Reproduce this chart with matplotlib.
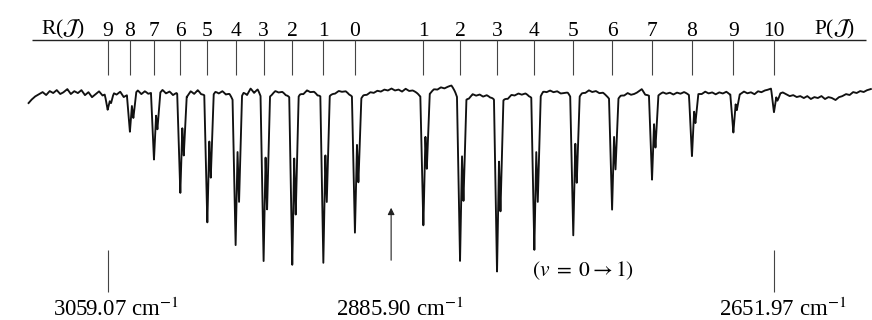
import numpy as np
import matplotlib
matplotlib.use("Agg")
import matplotlib.pyplot as plt

plt.rcParams['font.family'] = ['Liberation Serif', 'DejaVu Serif']
plt.rcParams['mathtext.fontset'] = 'stix'

# Line positions (cm^-1)
r_J = [0, 1, 2, 3, 4, 5, 6, 7, 8, 9]
r_wn = [2908.0, 2927.3, 2946.3, 2963.8, 2980.9, 2998.2, 3014.7, 3030.8, 3045.5, 3059.1]
r_depth = [139, 171, 174, 168, 152, 129, 100, 67, 40, 15]      # H35Cl
r_depth_37 = [85, 108, 120, 115, 107, 83, 62, 35, 25, 8]        # H37Cl

p_J = [1, 2, 3, 4, 5, 6, 7, 8, 9, 10]
p_wn = [2866.2, 2843.8, 2821.2, 2798.4, 2774.6, 2750.9, 2726.5, 2702.1, 2676.8, 2652.0]
p_depth = [135, 165, 174, 157, 143, 114, 87, 63, 40, 23]
p_depth_37 = [77, 102, 113, 107, 88, 72, 52, 30, 15, 8]

isotope_shift = 2.1     # H37Cl lines sit ~2.1 cm^-1 lower
band_origin = 2885.90
marked_wn = [3059.07, 2651.97]

# recorder baseline, left (3107 cm^-1) to right (2593 cm^-1)
baseline_noise = [
    -8, -4, -1, 1, 3, 0, 4, 2, 5, 1,
    3, 6, 1, 4, 2, 5, 0, 3, -2, 1,
    4, 0, 2, -1, 3, 1, 4, -1, 2, 5,
    3, 6, 2, 5, 3, 6, 2, 4, 7, 3,
    5, 2, 6, 4, 5, 2, 6, 3, 7, 4,
    6, 3, 5, 7, 4, 6, 3, 5, 2, 6,
    4, 7, 3, 9, 5, 10, 6, 4, 6, 5,
    7, 5, 6, 4, 6, 7, 5, 6, 4, 7,
    5, 6, 4, 7, 5, 6, 5, 4, 6, 5,
    6, 4, 5, 2, 1, 3, 2, 4, 3, 5,
    4, 6, 5, 7, 5, 6, 4, 7, 5, 6,
    5, 4, 6, 7, 6, 8, 7, 9, 8, 10,
    12, 8, 3, 1, 2, 0, 3, 1, 2, 0,
    2, 1, 3, 0, 2, 1, -1, 2, 1, 3,
    2, 4, 3, 5, 6, 4, 7, 5, 6, 4,
    5, 3, 4, 6, 4, 5, 3, 5, 4, 6,
    4, 5, 3, 4, 2, 1, 2, 0, 2, 1,
    3, 1, 2, 4, 7, 2, 3, 4, 2, 3,
    4, 2, 3, 1, 3, 2, 4, 3, 2, 4,
    3, 2, 4, 2, 3, 1, 3, 2, 4, 2,
    3, 1, 2, 4, 2, 3, 1, 4, 3, 5,
    6, 8, 4, 2, 3, 1, -1, 0, -2, -1,
    -3, -1, -4, -2, -3, -1, -4, -2, -3, -5,
    -2, -1, 1, 0, 3, 2, 4, 3, 5, 6,
]
wn_left, wn_right = 3107.4, 2592.8

# build the trace
wn = np.linspace(wn_right, wn_left, 14000)
noise_wn = np.linspace(wn_left, wn_right, len(baseline_noise))[::-1]
base = np.interp(wn, noise_wn, np.array(baseline_noise[::-1], dtype=float))

centres = np.array(r_wn + p_wn + [c - isotope_shift for c in r_wn + p_wn])
depths = np.array(r_depth + p_depth + r_depth_37 + p_depth_37, dtype=float)

half_w = 1.8     # cm^-1
gam = 2.5
wing_frac = 0.05
core = np.zeros_like(wn)
wings = np.zeros_like(wn)
for c, d in zip(centres, depths):
    dist = np.abs(wn - c)
    core = np.maximum(core, (1 - wing_frac) * d * np.clip(1 - dist / half_w, 0, None))
    wings += wing_frac * d * gam**2 / (dist**2 + gam**2)
trace = base - core - wings

fig = plt.figure(figsize=(8.72, 3.2), dpi=100)
ax = fig.add_axes([0, 0, 1, 1])
ax.set_xlim(3124.87, 2592.1)
ax.set_ylim(-225, 95)
ax.axis('off')

ax.plot(wn, trace, color='#111111', linewidth=1.35, solid_joinstyle='round')

# assignment scale along the top
ax.hlines(55, 3105.3, 2595.8, color='#222222', linewidth=1.0)
ax.vlines(r_wn + p_wn, 20, 55, color='#444444', linewidth=0.8)
for J, c in zip(r_J + p_J, r_wn + p_wn):
    ax.text(c, 59, str(J), ha='center', va='baseline', fontsize=15.5, color='#000000')
ax.text(3086.5, 61, r'R($\mathcal{J}$)', ha='center', va='baseline', fontsize=15.5, color='#000000')
ax.text(2615.0, 61, r'P($\mathcal{J}$)', ha='center', va='baseline', fontsize=15.5, color='#000000')

# wavenumber markers along the bottom
ax.vlines(marked_wn, -197, -155, color='#444444', linewidth=0.8)
ax.annotate('', xy=(band_origin, -110), xytext=(band_origin, -168),
            arrowprops=dict(arrowstyle='-|>', color='#222222', lw=0.8, mutation_scale=10))
for c in marked_wn + [band_origin]:
    ax.annotate(f'{c:.2f} cm$^{{-1}}$', xy=(c, -221), xytext=(6, 0), textcoords='offset points',
                ha='center', va='baseline', fontsize=16.5, color='#000000')
ax.text(2768.7, -176, r'$(v\;=\;0\rightarrow 1)$', ha='center', va='center', fontsize=15.5, color='#000000')

fig.savefig('out.png', dpi=100, facecolor='white')
